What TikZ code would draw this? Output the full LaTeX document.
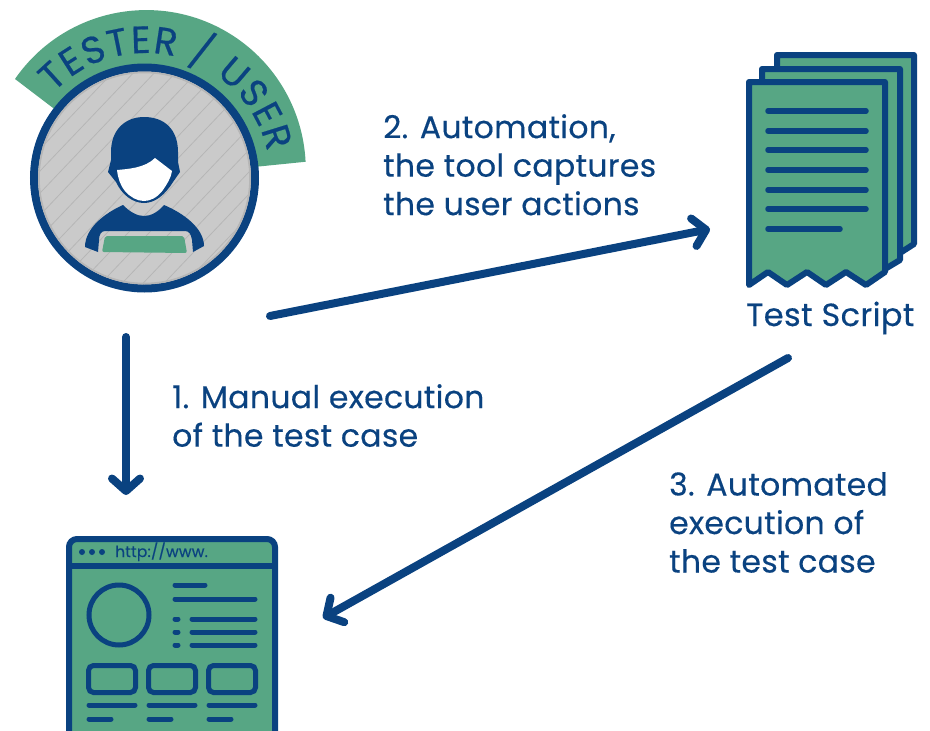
\documentclass[tikz,border=0pt]{standalone}
\usepackage{fontspec}
\setmainfont[FakeBold=0.35,LetterSpace=1]{Poppins}
\newfontfamily\badgefont[FakeBold=0.5]{Poppins}
\usetikzlibrary{arrows.meta,decorations.text}
\definecolor{navy}{HTML}{0A4280}
\definecolor{leaf}{HTML}{57A684}
\definecolor{disc}{HTML}{CACACA}
\definecolor{hatch}{HTML}{B6B6B6}
\tikzset{
  x=1pt,y=1pt,
  arrowline/.style={draw=navy,line width=8pt,line cap=round,-{Straight Barb[length=12.5pt,width=28pt,line cap=round,line join=round]}},
  caption/.style={text=navy,align=left,anchor=north west,inner sep=0pt,font=\fontsize{31.5}{38.5}\selectfont},
  iconline/.style={draw=navy,line width=5.5pt,line cap=round},
  page/.style={draw=navy,fill=leaf,line width=6pt,line join=round,line cap=round},
  webline/.style={draw=navy,line width=5pt,line cap=round},
  card/.style={draw=navy,line width=5pt,rounded corners=5pt},
}
\begin{document}
\begin{tikzpicture}
\useasboundingbox (0,0) rectangle (930,-731);
% tester badge
\fill[leaf] (15,-79) arc[start angle=145.4,end angle=2.8,radius=159.5] -- (145,-178) -- cycle;
\path[decorate,decoration={text along path,text align={fit to path},
  text={|\badgefont\fontsize{38}{38}\selectfont\color{navy}|TESTER / USER}}]
  (145,-178) ++(137:125) arc[start angle=137,end angle=12,radius=125];
\node[circle,draw=navy,fill=disc,line width=8pt,minimum size=221pt,inner sep=0pt] (tester) at (144.5,-178) {};
\begin{scope}
\clip (144.5,-178) circle[radius=106.5];
\foreach \k in {-7,...,7}
  \draw[hatch,line width=0.8pt] (144.5+\k*21-130,-178-130) -- ++(260,260*1.05);
\draw[hatch,line width=2.5pt] (144.5,-178) circle[radius=106];
\end{scope}
\fill[navy] (111,-152) .. controls (111,-130) and (125,-117) .. (144,-117)
  .. controls (165,-117) and (178,-130) .. (178,-152) -- (178,-162) -- (180,-172) -- (173,-182)
  .. controls (165,-195) and (155,-203) .. (144,-203)
  .. controls (133,-203) and (122,-195) .. (116,-182) -- (108,-172) -- (111,-160) -- cycle;
\fill[white] (117,-170) .. controls (128,-169) and (145,-168) .. (155,-158) -- (172,-171)
  .. controls (171,-178) and (167,-184) .. (163,-190)
  .. controls (157,-198) and (150,-201) .. (144,-201)
  .. controls (137,-201) and (130,-197) .. (125,-191)
  .. controls (120,-185) and (118,-178) .. (117,-170) -- cycle;
\fill[navy] (85,-247) .. controls (85,-228) and (105,-213) .. (123,-205)
  .. controls (130,-212) and (137,-216) .. (144,-216)
  .. controls (151,-216) and (158,-212) .. (164,-205)
  .. controls (183,-213) and (204,-228) .. (204,-246)
  -- (193,-252) -- (192,-240) .. controls (191,-234) and (189,-231) .. (185,-231)
  -- (105,-231) .. controls (101,-231) and (99,-235) .. (99,-240) -- (98,-252) -- cycle;
\fill[leaf,rounded corners=2pt] (105,-236) -- (184,-236) -- (187,-253) -- (102,-252) -- cycle;
% test script icon
\draw[page] (777,-69) -- (777,-55) -- (914,-55) -- (914,-244) -- (900,-253) -- (800,-253) -- cycle;
\draw[page] (762,-82) -- (762,-69) -- (900,-69) -- (900,-260) -- (885,-269) -- (800,-269) -- cycle;
\draw[page] (749,-285) -- (749,-82) -- (885,-82) -- (885,-272) -- (866,-285) -- (846,-272) -- (826,-285) -- (807,-272) -- (787,-285) -- (768,-272) -- cycle;
\foreach \y in {111,131,150,170,190,209}
  \draw[iconline] (768,-\y) -- (866,-\y);
\draw[iconline] (768,-229) -- (840,-229);
\node[text=navy,inner sep=0pt,anchor=base west,font=\fontsize{32}{36}\selectfont] (scriptlabel) at (746,-326) {Test Script};
% web page icon
\draw[draw=navy,fill=leaf,line width=6pt,rounded corners=8pt] (69,-539) rectangle (275,-740);
\coordinate (webtop) at (69,-566);
\draw[navy,line width=6pt] (webtop) -- (275,-566);
\foreach \x in {82,92,102} \fill[navy] (\x,-552) circle[radius=3];
\node[text=navy,inner sep=0pt,anchor=base west,font=\fontsize{15.5}{18}\selectfont] (url) at (115,-557) {http://www.};
\draw[navy,line width=5pt] (119,-615) circle[radius=30];
\draw[webline] (175,-585) -- (205,-585);
\draw[webline] (175,-599) -- (255,-599);
\foreach \y in {619,632,645} {
  \draw[webline] (175,-\y) -- (178,-\y);
  \draw[webline] (192,-\y) -- (255,-\y);
}
\foreach \x in {86,146,206} {
  \draw[card] (\x+2.5,-665.5) rectangle (\x+49.5,-692.5);
  \draw[webline] (\x+3,-705) -- (\x+49,-705);
  \draw[webline] (\x+3,-719) -- (\x+25,-719);
}
% captions
\node[caption] (cap2) at (383,-114) {2. Automation,\\the tool captures\\the user actions};
\node[caption] (cap1) at (172,-384) {1. Manual execution\\of the test case};
\node[caption] (cap3) at (669,-472) {3. Automated\\execution of\\the test case};
% connectors
\coordinate (a1s) at (126,-337);
\coordinate (a1e) at (126,-495);
\coordinate (a2s) at (270,-316);
\coordinate (a2e) at (710,-229);
\coordinate (a3s) at (788,-358);
\coordinate (a3e) at (323,-618);
\draw[arrowline] (a1s) -- (a1e);
\draw[arrowline] (a2s) -- (a2e);
\draw[arrowline] (a3s) -- (a3e);
\end{tikzpicture}
\end{document}
